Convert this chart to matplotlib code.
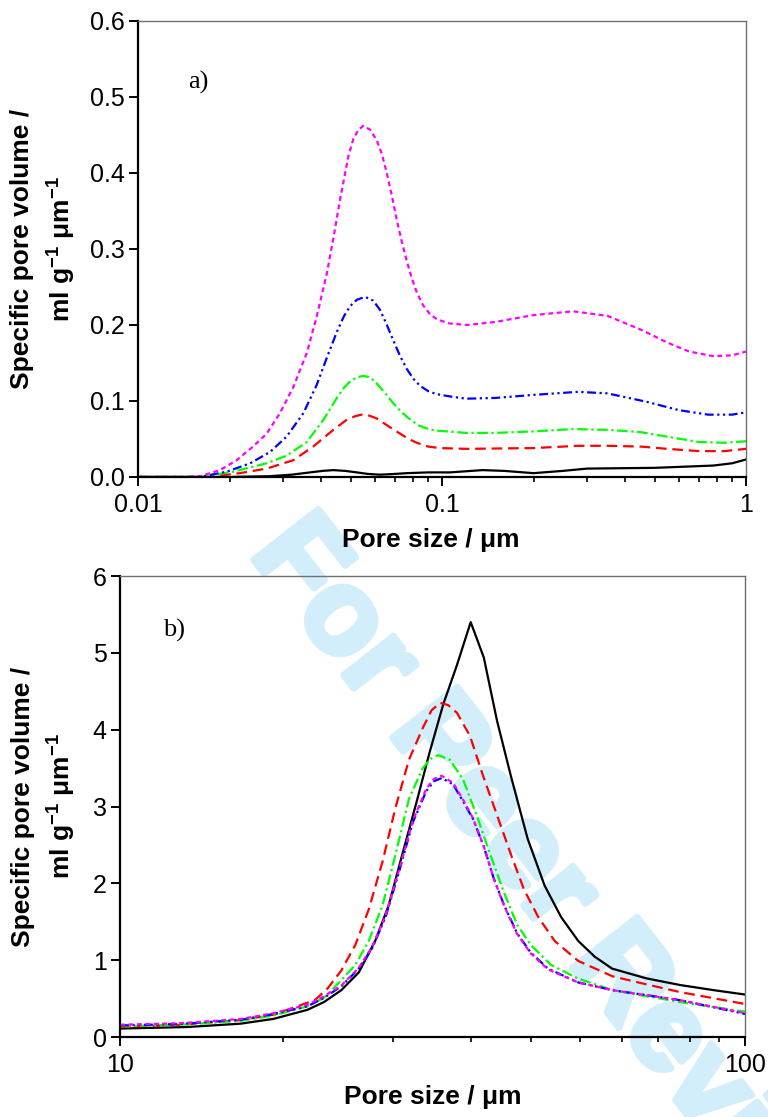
import matplotlib

matplotlib.use("Agg")
import matplotlib.pyplot as plt
import matplotlib.patheffects as pe
from matplotlib.ticker import FixedLocator, FixedFormatter, NullFormatter, LogLocator

plt.rcParams["font.family"] = ["Liberation Sans", "DejaVu Sans"]
plt.rcParams["mathtext.default"] = "regular"

# ---- panel a) : 0.01 - 1 um ----
black_a_x = [0.01, 0.02, 0.027, 0.032, 0.0368, 0.0405, 0.0439, 0.048, 0.0524, 0.057, 0.0625,
             0.07, 0.0766, 0.09, 0.106, 0.136, 0.16, 0.2, 0.25, 0.3, 0.5, 0.78, 0.9, 1.0]
black_a_y = [0.0, 0.0, 0.001, 0.003, 0.006, 0.008, 0.009, 0.008, 0.006, 0.004, 0.003,
             0.004, 0.005, 0.006, 0.006, 0.009, 0.008, 0.005, 0.008, 0.011, 0.012, 0.015, 0.018, 0.023]

red_a_x = [0.01, 0.017, 0.0216, 0.0265, 0.0324, 0.0377, 0.0439, 0.0485, 0.0518, 0.0544, 0.0573,
           0.061, 0.0665, 0.0728, 0.0776, 0.0826, 0.09, 0.0982, 0.12, 0.2, 0.28, 0.35, 0.45,
           0.55, 0.7, 0.85, 1.0]
red_a_y = [0.0, 0.0, 0.005, 0.011, 0.022, 0.040, 0.062, 0.075, 0.080, 0.082, 0.081,
           0.077, 0.067, 0.057, 0.050, 0.045, 0.040, 0.038, 0.037, 0.038, 0.041, 0.041, 0.040,
           0.037, 0.034, 0.034, 0.037]

green_a_x = [0.01, 0.016, 0.0206, 0.0265, 0.0308, 0.0359, 0.0407, 0.0451, 0.0475, 0.0499, 0.0524,
             0.0551, 0.058, 0.061, 0.0651, 0.0691, 0.0737, 0.0784, 0.0836, 0.0888, 0.095, 0.1035,
             0.12, 0.15, 0.2, 0.27, 0.35, 0.45, 0.55, 0.7, 0.85, 1.0]
green_a_y = [0.0, 0.0, 0.007, 0.018, 0.028, 0.046, 0.075, 0.104, 0.117, 0.126, 0.131,
             0.133, 0.131, 0.123, 0.110, 0.097, 0.085, 0.076, 0.068, 0.064, 0.061, 0.060,
             0.058, 0.058, 0.060, 0.063, 0.062, 0.059, 0.053, 0.046, 0.045, 0.047]

blue_a_x = [0.01, 0.016, 0.0196, 0.0234, 0.0272, 0.0308, 0.035, 0.0387, 0.0418, 0.0451, 0.0475,
            0.0499, 0.0524, 0.0558, 0.0594, 0.0625, 0.0657, 0.0691, 0.0728, 0.0766, 0.0806,
            0.0846, 0.09, 0.0959, 0.106, 0.12, 0.15, 0.2, 0.28, 0.35, 0.47, 0.6, 0.75, 0.9, 1.0]
blue_a_y = [0.0, 0.0, 0.007, 0.018, 0.033, 0.053, 0.084, 0.121, 0.157, 0.191, 0.211,
            0.225, 0.233, 0.237, 0.232, 0.220, 0.201, 0.180, 0.159, 0.142, 0.129,
            0.120, 0.113, 0.109, 0.106, 0.103, 0.104, 0.108, 0.112, 0.110, 0.099, 0.088, 0.082,
            0.082, 0.085]

magenta_a_x = [0.01, 0.014, 0.016, 0.0186, 0.0211, 0.0239, 0.0265, 0.0293, 0.0324, 0.0359,
               0.0387, 0.0418, 0.0439, 0.0462, 0.0492, 0.0511, 0.0531, 0.0551, 0.058, 0.061,
               0.0634, 0.0658, 0.0684, 0.071, 0.0737, 0.0766, 0.0796, 0.0826, 0.0866, 0.0914,
               0.0966, 0.106, 0.121, 0.15, 0.2, 0.27, 0.35, 0.45, 0.55, 0.65, 0.78, 0.9, 1.0]
magenta_a_y = [0.0, 0.0, 0.001, 0.009, 0.022, 0.040, 0.057, 0.084, 0.118, 0.163,
               0.211, 0.268, 0.314, 0.365, 0.422, 0.445, 0.457, 0.462, 0.457, 0.443,
               0.425, 0.400, 0.370, 0.338, 0.310, 0.284, 0.261, 0.243, 0.226, 0.214,
               0.207, 0.202, 0.200, 0.204, 0.213, 0.218, 0.212, 0.194, 0.177, 0.165, 0.159,
               0.160, 0.165]

# ---- panel b) : 10 - 100 um ----
black_b_x = [10, 12.8, 15.6, 17.6, 19.95, 21.2, 22.6, 24.1, 25.6, 26.9, 28.3, 29.8, 31.3, 32.9,
             34.6, 36.4, 38.2, 40.1, 42.2, 44.9, 47.8, 50.8, 54.1, 57.5, 61.3, 69.5, 78.7, 89.1, 100]
black_b_y = [0.11, 0.13, 0.174, 0.236, 0.354, 0.455, 0.61, 0.84, 1.25, 1.71, 2.38, 3.05, 3.71, 4.33,
             4.84, 5.40, 4.94, 4.12, 3.40, 2.58, 1.97, 1.56, 1.25, 1.045, 0.89, 0.764, 0.677, 0.61, 0.553]

red_b_x = [10, 12.5, 15.6, 17.6, 20.5, 21.5, 22.6, 23.8, 25.0, 26.3, 27.6, 29.0, 30.5, 31.5,
           32.5, 33.5, 34.6, 36.3, 38.1, 40.1, 42.2, 44.3, 46.7, 49.6, 54.1, 61.4, 69.5, 78.7, 100]
red_b_y = [0.13, 0.16, 0.22, 0.29, 0.48, 0.635, 0.866, 1.20, 1.66, 2.28, 2.99, 3.61, 4.02, 4.25,
           4.35, 4.32, 4.22, 3.92, 3.40, 2.89, 2.38, 1.92, 1.56, 1.25, 0.99, 0.79, 0.686, 0.585, 0.43]

green_b_x = [10, 12.5, 15.6, 17.6, 19.95, 21.2, 22.6, 23.8, 25.0, 26.3, 27.6, 29.0, 30.5, 31.4,
             32.3, 33.7, 35.4, 37.2, 39.1, 41.2, 43.2, 45.4, 48.9, 54.1, 61.4, 78.7, 100]
green_b_y = [0.14, 0.16, 0.21, 0.28, 0.40, 0.51, 0.74, 0.94, 1.25, 1.71, 2.38, 3.10, 3.50, 3.62,
             3.67, 3.61, 3.35, 2.89, 2.38, 1.87, 1.46, 1.20, 0.94, 0.76, 0.61, 0.455, 0.33]

blue_b_x = [10, 12.5, 15.6, 17.6, 19.95, 21.2, 22.6, 24.1, 25.3, 26.6, 28.0, 29.4, 30.9, 31.8,
            32.7, 34.1, 35.5, 36.7, 38.2, 39.6, 41.2, 43.2, 45.4, 48.4, 54.1, 61.4, 78.7, 100]
blue_b_y = [0.15, 0.17, 0.225, 0.30, 0.40, 0.51, 0.66, 0.89, 1.15, 1.56, 2.17, 2.79, 3.20, 3.33,
            3.37, 3.29, 3.05, 2.84, 2.48, 2.07, 1.71, 1.35, 1.10, 0.89, 0.71, 0.61, 0.48, 0.30]

magenta_b_x = [10, 12.5, 15.6, 17.6, 19.95, 21.2, 22.6, 24.1, 25.3, 26.6, 28.0, 29.4, 30.9, 31.8,
               32.7, 34.1, 35.5, 36.7, 38.2, 39.6, 41.2, 43.2, 45.4, 48.4, 54.1, 61.4, 78.7, 100]
magenta_b_y = [0.16, 0.18, 0.235, 0.31, 0.42, 0.53, 0.67, 0.90, 1.17, 1.58, 2.19, 2.81, 3.23, 3.36,
               3.40, 3.31, 3.07, 2.85, 2.48, 2.07, 1.70, 1.34, 1.09, 0.88, 0.71, 0.61, 0.48, 0.31]

yticks_a = [0.0, 0.1, 0.2, 0.3, 0.4, 0.5, 0.6]
yticks_b = [0, 1, 2, 3, 4, 5, 6]
xticks_a = [0.01, 0.1, 1]
xtick_labels_a = ["0.01", "0.1", "1"]
xticks_b = [10, 100]
xtick_labels_b = ["10", "100"]
minor_ticks_b = [18.2, 27.3, 36.4, 45.5, 54.5, 63.6, 72.7, 81.8, 90.9]

styles = {
    "black": dict(color="black", linestyle="-", linewidth=1.6),
    "red": dict(color="#ff0000", linestyle=(0, (4.8, 2.6)), linewidth=1.6),
    "green": dict(color="#00ff00", linestyle=(0, (4.8, 1.6, 1.0, 1.6)), linewidth=1.6),
    "blue": dict(color="#0000ff", linestyle=(0, (4.0, 1.6, 1.0, 1.6, 1.0, 1.6)), linewidth=1.6),
    "magenta": dict(color="#ff00ff", linestyle=(0, (2.2, 1.6)), linewidth=1.6),
}

fig = plt.figure(figsize=(7.68, 11.17), dpi=100)

wm_color = "#d3eefb"
fig.text(0.728, 0.193, "For Peer Review", rotation=-52, fontsize=86, fontweight="bold",
         color=wm_color, ha="center", va="center", rotation_mode="anchor", zorder=-1,
         path_effects=[pe.withStroke(linewidth=5, foreground=wm_color)])

ax_a = fig.add_axes([0.1797, 0.5730, 0.7917, 0.4082])
ax_b = fig.add_axes([0.15625, 0.0716, 0.8138, 0.4127])

ylabel = "Specific pore volume /\nml g$^{-1}$ \u03bcm$^{-1}$"
xlabel = "Pore size / \u03bcm"


def style_axes(ax):
    ax.set_facecolor("none")
    ax.set_xscale("log")
    for side in ("top", "right"):
        ax.spines[side].set_color("#707070")
        ax.spines[side].set_linewidth(1.0)
    for side in ("left", "bottom"):
        ax.spines[side].set_color("black")
        ax.spines[side].set_linewidth(1.6)
    ax.tick_params(which="major", direction="out", length=6.5, width=1.4,
                   labelsize=18, top=False, right=False)
    ax.tick_params(which="minor", direction="out", length=3.5, width=1.2,
                   top=False, right=False)
    ax.tick_params(axis="x", which="major", pad=5)
    ax.tick_params(axis="y", which="major", pad=3)
    ax.tick_params(axis="y", which="minor", left=False)


# panel a
style_axes(ax_a)
ax_a.plot(black_a_x, black_a_y, **styles["black"])
ax_a.plot(red_a_x, red_a_y, **styles["red"])
ax_a.plot(green_a_x, green_a_y, **styles["green"])
ax_a.plot(blue_a_x, blue_a_y, **styles["blue"])
ax_a.plot(magenta_a_x, magenta_a_y, **styles["magenta"])
ax_a.set_xlim(0.01, 1)
ax_a.set_ylim(0, 0.6)
ax_a.set_yticks(yticks_a)
ax_a.set_yticklabels([f"{v:.1f}" for v in yticks_a])
ax_a.xaxis.set_major_locator(FixedLocator(xticks_a))
ax_a.xaxis.set_major_formatter(FixedFormatter(xtick_labels_a))
ax_a.xaxis.set_minor_locator(LogLocator(base=10, subs=range(2, 10)))
ax_a.xaxis.set_minor_formatter(NullFormatter())
ax_a.set_xlabel(xlabel, fontsize=19, fontweight="bold")
ax_a.set_ylabel(ylabel, fontsize=19, fontweight="bold", linespacing=1.45)
ax_a.xaxis.set_label_coords(0.482, -0.112)
ax_a.yaxis.set_label_coords(-0.099, 0.5)
ax_a.text(0.082, 0.866, "a)", transform=ax_a.transAxes, fontsize=19,
          family="Liberation Serif", va="center", ha="left")

# panel b
style_axes(ax_b)
ax_b.plot(black_b_x, black_b_y, **styles["black"])
ax_b.plot(red_b_x, red_b_y, **styles["red"])
ax_b.plot(green_b_x, green_b_y, **styles["green"])
ax_b.plot(blue_b_x, blue_b_y, **styles["blue"])
ax_b.plot(magenta_b_x, magenta_b_y, **styles["magenta"])
ax_b.set_xlim(10, 100)
ax_b.set_ylim(0, 6)
ax_b.set_yticks(yticks_b)
ax_b.set_yticklabels([str(v) for v in yticks_b])
ax_b.xaxis.set_major_locator(FixedLocator(xticks_b))
ax_b.xaxis.set_major_formatter(FixedFormatter(xtick_labels_b))
ax_b.xaxis.set_minor_locator(FixedLocator(minor_ticks_b))
ax_b.xaxis.set_minor_formatter(NullFormatter())
ax_b.set_xlabel(xlabel, fontsize=19, fontweight="bold")
ax_b.set_ylabel(ylabel, fontsize=19, fontweight="bold", linespacing=1.45)
ax_b.xaxis.set_label_coords(0.5, -0.104)
ax_b.yaxis.set_label_coords(-0.067, 0.5)
ax_b.text(0.069, 0.883, "b)", transform=ax_b.transAxes, fontsize=19,
          family="Liberation Serif", va="center", ha="left")

fig.savefig("out.png", dpi=100)
